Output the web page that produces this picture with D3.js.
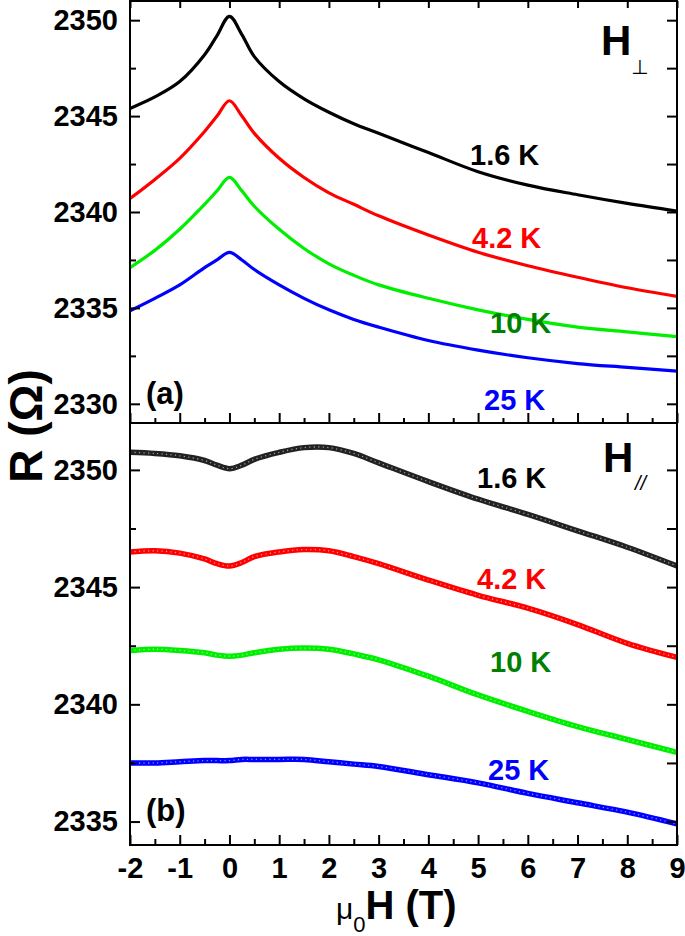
<!DOCTYPE html>
<html>
<head>
<meta charset="utf-8">
<script src="https://cdn.jsdelivr.net/npm/d3@7"></script>
<style>
  html, body { margin: 0; padding: 0; background: #fff; }
  svg { display: block; }
  text { font-family: Arial, "Liberation Sans", sans-serif; }
</style>
</head>
<body>
<svg id="chart" width="685" height="936"></svg>
<script>
// ---------------- DATA ----------------
const fieldT = [-2, -1.5, -1, -0.5, -0.25, 0, 0.25, 0.5, 1, 1.5, 2, 2.5, 3, 4, 5, 6, 7, 8, 9];

// (a) H perpendicular
const perp_1_6K = [2345.4, 2346.0, 2346.8, 2348.2, 2349.2, 2350.2, 2349.25, 2348.1, 2346.8, 2345.9, 2345.2, 2344.6, 2344.1, 2343.1, 2342.1, 2341.4, 2340.9, 2340.45, 2340.05];
const perp_4_2K = [2340.7, 2341.7, 2342.8, 2344.2, 2345.0, 2345.8, 2345.0, 2344.1, 2342.8, 2341.8, 2341.0, 2340.4, 2339.8, 2338.8, 2337.9, 2337.2, 2336.6, 2336.05, 2335.6];
const perp_10K  = [2337.1, 2338.0, 2339.1, 2340.4, 2341.1, 2341.8, 2341.1, 2340.3, 2339.1, 2338.1, 2337.3, 2336.7, 2336.2, 2335.5, 2334.9, 2334.4, 2334.0, 2333.75, 2333.5];
const perp_25K  = [2334.85, 2335.5, 2336.2, 2337.1, 2337.5, 2337.9, 2337.5, 2337.0, 2336.2, 2335.5, 2334.9, 2334.4, 2334.0, 2333.3, 2332.8, 2332.4, 2332.1, 2331.9, 2331.7];

// (b) H parallel
const par_1_6K = [2350.75, 2350.7, 2350.6, 2350.4, 2350.2, 2350.05, 2350.2, 2350.45, 2350.75, 2350.95, 2350.95, 2350.7, 2350.3, 2349.5, 2348.75, 2348.1, 2347.4, 2346.7, 2345.9];
const par_4_2K = [2346.5, 2346.55, 2346.45, 2346.2, 2346.0, 2345.9, 2346.05, 2346.3, 2346.5, 2346.6, 2346.55, 2346.3, 2346.0, 2345.3, 2344.65, 2344.1, 2343.4, 2342.6, 2342.0];
const par_10K  = [2342.3, 2342.35, 2342.3, 2342.2, 2342.1, 2342.05, 2342.1, 2342.2, 2342.35, 2342.4, 2342.35, 2342.15, 2341.9, 2341.2, 2340.4, 2339.7, 2339.05, 2338.5, 2337.95];
const par_25K  = [2337.5, 2337.5, 2337.55, 2337.6, 2337.6, 2337.6, 2337.65, 2337.65, 2337.65, 2337.65, 2337.55, 2337.45, 2337.35, 2337.0, 2336.65, 2336.2, 2335.8, 2335.4, 2334.9];

const tempLabels = ["1.6 K", "4.2 K", "10 K", "25 K"];
const curveColors = ["#000000", "#ff0000", "#00ee00", "#0000ff"];
const curveColorsB = ["#222222", "#ff0000", "#00ee00", "#0000ff"];
const labelColors = ["#000000", "#ff0000", "#008000", "#0000ff"];

const xTicks = [-2, -1, 0, 1, 2, 3, 4, 5, 6, 7, 8, 9];
const xMinor = [-1.5, -0.5, 0.5, 1.5, 2.5, 3.5, 4.5, 5.5, 6.5, 7.5, 8.5];
const yTicksA = [2330, 2335, 2340, 2345, 2350];
const yMinorA = [2332.5, 2337.5, 2342.5, 2347.5];
const yTicksB = [2335, 2340, 2345, 2350];
const yMinorB = [2337.5, 2342.5, 2347.5];

// ---------------- LAYOUT ----------------
const svg = d3.select("#chart");
const L = 130, R = 677;
const aTop = 1, aBot = 423, bTop = 423, bBot = 845;

const x = d3.scaleLinear().domain([-2, 9]).range([L, R]);
const yA = d3.scaleLinear().domain([2329, 2351]).range([aBot, aTop]);
const yB = d3.scaleLinear().domain([2334, 2352]).range([bBot, bTop]);

const tickFont = "bold 29px Arial, 'Liberation Sans', sans-serif";
const fmt = d => String(d);

function styleAxis(g) {
  g.selectAll(".domain").remove();
  g.selectAll("line").attr("stroke", "#000").attr("stroke-width", 2);
  g.selectAll("text").attr("fill", "#000").style("font", tickFont);
}

// curves
function drawCurves(yScale, seriesList, colors, width, clipId, y0, y1, textured) {
  svg.append("clipPath").attr("id", clipId)
    .append("rect").attr("x", L).attr("y", y0).attr("width", R - L).attr("height", y1 - y0);
  const line = d3.line()
    .x((d, i) => x(fieldT[i]))
    .y(d => yScale(d))
    .curve(d3.curveCatmullRom.alpha(0.5));
  const g = svg.append("g").attr("clip-path", `url(#${clipId})`);
  seriesList.forEach((s, k) => {
    g.append("path").datum(s)
      .attr("d", line)
      .attr("fill", "none")
      .attr("stroke", colors[k])
      .attr("stroke-width", width)
      .attr("stroke-linejoin", "round")
      .attr("stroke-linecap", "round");
    if (textured) {
      g.append("path").datum(s)
        .attr("d", line)
        .attr("fill", "none")
        .attr("stroke", "#fff")
        .attr("stroke-opacity", 0.55)
        .attr("stroke-width", 1.3)
        .attr("stroke-dasharray", "1.2 3.3");
    }
  });
}
drawCurves(yA, [perp_1_6K, perp_4_2K, perp_10K, perp_25K], curveColors, 3.2, "clipA", aTop, aBot, false);
drawCurves(yB, [par_1_6K, par_4_2K, par_10K, par_25K], curveColorsB, 5.5, "clipB", bTop, bBot, true);

// ---------- panel (a) axes ----------
svg.append("g").attr("transform", `translate(${L},0)`)
  .call(d3.axisLeft(yA).tickValues(yTicksA).tickSize(-10).tickPadding(12).tickFormat(fmt))
  .call(styleAxis);
svg.append("g").attr("transform", `translate(${L},0)`)
  .call(d3.axisLeft(yA).tickValues(yMinorA).tickSize(-6).tickFormat(""))
  .call(styleAxis);
svg.append("g").attr("transform", `translate(${R},0)`)
  .call(d3.axisRight(yA).tickValues(yTicksA.concat(yMinorA)).tickSize(-10).tickFormat(""))
  .call(styleAxis);
svg.append("g").attr("transform", `translate(0,${aTop})`)
  .call(d3.axisTop(x).tickValues(xTicks).tickSize(-7).tickFormat(""))
  .call(styleAxis);
svg.append("g").attr("transform", `translate(0,${aBot})`)
  .call(d3.axisBottom(x).tickValues(xTicks).tickSize(-10).tickFormat(""))
  .call(styleAxis);
svg.append("g").attr("transform", `translate(0,${aBot})`)
  .call(d3.axisBottom(x).tickValues(xMinor).tickSize(-5).tickFormat(""))
  .call(styleAxis);

// ---------- panel (b) axes ----------
svg.append("g").attr("transform", `translate(${L},0)`)
  .call(d3.axisLeft(yB).tickValues(yTicksB).tickSize(-10).tickPadding(12).tickFormat(fmt))
  .call(styleAxis);
svg.append("g").attr("transform", `translate(${L},0)`)
  .call(d3.axisLeft(yB).tickValues(yMinorB).tickSize(-6).tickFormat(""))
  .call(styleAxis);
svg.append("g").attr("transform", `translate(${R},0)`)
  .call(d3.axisRight(yB).tickValues(yTicksB.concat(yMinorB)).tickSize(-10).tickFormat(""))
  .call(styleAxis);
svg.append("g").attr("transform", `translate(0,${bBot})`)
  .call(d3.axisBottom(x).tickValues(xTicks).tickSize(-10).tickPadding(12).tickFormat(fmt))
  .call(styleAxis);
svg.append("g").attr("transform", `translate(0,${bBot})`)
  .call(d3.axisBottom(x).tickValues(xMinor).tickSize(-6).tickFormat(""))
  .call(styleAxis);

// frames
const frame = svg.append("g").attr("fill", "none").attr("stroke", "#000").attr("stroke-width", 2);
frame.append("rect").attr("x", L).attr("y", aTop).attr("width", R - L).attr("height", aBot - aTop);
frame.append("rect").attr("x", L).attr("y", bTop).attr("width", R - L).attr("height", bBot - bTop);

// ---------- temperature labels ----------
const labA = [[470, 165], [472, 248], [490, 333], [484, 410]];
const labB = [[477, 488], [477, 589], [490, 672], [488, 780]];
function tempText(pos) {
  pos.forEach((p, k) => {
    svg.append("text").attr("x", p[0]).attr("y", p[1])
      .attr("fill", labelColors[k])
      .style("font", "bold 29px Arial, 'Liberation Sans', sans-serif")
      .text(tempLabels[k]);
  });
}
tempText(labA);
tempText(labB);

// panel letters
svg.append("text").attr("x", 146).attr("y", 404)
  .style("font", "bold 31px Arial, 'Liberation Sans', sans-serif").text("(a)");
svg.append("text").attr("x", 146).attr("y", 821)
  .style("font", "bold 31px Arial, 'Liberation Sans', sans-serif").text("(b)");

// field direction labels
svg.append("text").attr("x", 601).attr("y", 55)
  .style("font", "bold 42px Arial, 'Liberation Sans', sans-serif").text("H");
svg.append("text").attr("x", 631).attr("y", 74)
  .style("font", "20px 'DejaVu Sans', sans-serif").text("⊥");
svg.append("text").attr("x", 603).attr("y", 472)
  .style("font", "bold 42px Arial, 'Liberation Sans', sans-serif").text("H");
svg.append("text").attr("x", 635).attr("y", 490)
  .style("font", "italic 20px Arial, 'Liberation Sans', sans-serif").text("//");

// axis titles
svg.append("text")
  .attr("transform", "translate(42,426) rotate(-90)")
  .attr("text-anchor", "middle")
  .style("font", "bold 46px Arial, 'Liberation Sans', sans-serif")
  .text("R (Ω)");

const xt = svg.append("text").attr("x", 336).attr("y", 919);
xt.append("tspan").style("font", "30px Arial, 'Liberation Sans', sans-serif").text("μ");
xt.append("tspan").attr("dy", 13).style("font", "22px Arial, 'Liberation Sans', sans-serif").text("0");
xt.append("tspan").attr("dy", -13).style("font", "bold 40px Arial, 'Liberation Sans', sans-serif").text("H (T)");
</script>
</body>
</html>
